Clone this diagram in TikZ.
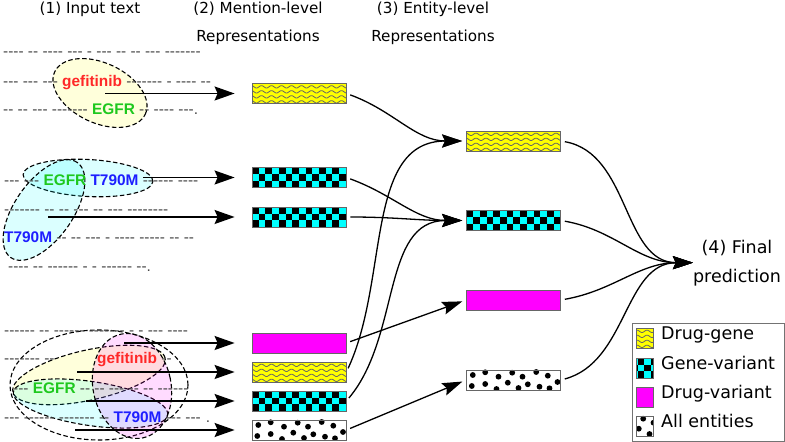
\documentclass[tikz,border=0pt]{standalone}
\usepackage{fontspec}
\setmainfont{DejaVu Sans}
\newfontfamily\inputfont[Ligatures=TeXOff]{Liberation Sans}
\usetikzlibrary{arrows.meta}

\definecolor{drugred}{RGB}{255,40,40}
\definecolor{genegreen}{RGB}{30,200,30}
\definecolor{varblue}{RGB}{30,30,255}
\definecolor{dgyellow}{RGB}{255,255,0}
\definecolor{gvcyan}{RGB}{0,255,255}
\definecolor{dvmagenta}{RGB}{255,0,255}

\newcommand\gefi{\textcolor{drugred}{\bfseries gefitinib}}
\newcommand\egfr{\textcolor{genegreen}{\bfseries EGFR}}
\newcommand\tvm{\textcolor{varblue}{\bfseries T790M}}

\tikzset{
  txtline/.style={anchor=base west, inner sep=0pt, text=black!72,
    font=\inputfont\fontsize{15.4}{18}\selectfont},
  head/.style={inner sep=0pt, align=center, font=\fontsize{15.2}{27.6}\selectfont},
  mention/.style={draw, dash pattern=on 4.5pt off 2.5pt, line width=1.1pt, fill opacity=0.14},
  inarrow/.style={-{Stealth[length=20pt,width=14pt,inset=3pt]}, line width=1.4pt, shorten >=17pt},
  link/.style={-{Stealth[length=20pt,width=13pt,inset=3pt]}, line width=1.3pt,
    shorten <=4pt, shorten >=4pt},
  rep/.style={draw=black!60, line width=0.8pt, minimum width=94pt, minimum height=20pt,
    inner sep=0pt},
  % patterns are drawn round the node centre
  druggene/.style={rep, fill=dgyellow, path picture={
      \foreach \k in {0,...,3}
        \draw[line width=0.8pt] plot[domain=-50:50, samples=101] (\x, {6.7-5*\k+1.2*sin(36*\x)});
      }},
  genevar/.style={rep, fill=gvcyan, path picture={
      \foreach \i in {0,...,14}
        \foreach \j in {0,1,2}
          {\ifodd\numexpr\i+\j+1\relax \fill[black] ({-47+\i*6.7},{10-\j*6.7}) rectangle ++(6.7,-6.7); \fi}
      }},
  drugvar/.style={rep, fill=dvmagenta},
  allent/.style={rep, fill=white, path picture={
      \foreach \dx/\dy in {6.3/-5, 18.7/-2.3, 32/-6.7, 45.7/-2.7, 56/-6.7, 69.7/-2, 81.3/-5.7,
          5.3/-16, 18.7/-14, 30/-19, 41.3/-12.7, 52/-18, 61.3/-14.3, 73/-16.7, 83/-18.3, 91/-12}
        \fill[black] ({\dx-47},{\dy+10}) circle (2.9);
      }},
  keytext/.style={anchor=base west, inner sep=0pt, font=\fontsize{17.5}{21}\selectfont}
}

\begin{document}
\begin{tikzpicture}[x=1pt, y=1pt]
  \useasboundingbox (0,0) rectangle (785,442);

  % mention groups
  \draw[mention, fill=dgyellow, shift={(100,349)}, rotate=-25] (0,0) ellipse [x radius=50, y radius=30];
  \draw[mention, fill=gvcyan, shift={(88,264)}, rotate=-3] (0,0) ellipse [x radius=65, y radius=18.5];
  \draw[mention, fill=gvcyan, shift={(44,232)}, rotate=55] (0,0) ellipse [x radius=58, y radius=29];
  \draw[mention] (99,57) ellipse [x radius=89, y radius=55];
  \draw[mention, fill=dgyellow, shift={(89,67)}, rotate=12.6] (0,0) ellipse [x radius=78, y radius=25];
  \draw[mention, fill=gvcyan, shift={(90.5,38.5)}, rotate=-8.4] (0,0) ellipse [x radius=78, y radius=22];
  \draw[mention, fill=dvmagenta, shift={(132,56)}, rotate=12] (0,0) ellipse [x radius=39, y radius=53];

  % input text
  \node[txtline] (t1) at (3,385.5) {---- -- ---- --- - --- -- -- --- -------};
  \node[txtline] (t2) at (3,355.5) {--- --- --- \gefi{} ------- - ---- --};
  \node[txtline] (t3) at (3,327.5) {-- -- --- ------- \egfr{} -- ---- ---.};
  \node[txtline] (t4) at (4,256.5) {--- --- \egfr{} \tvm{} ------ ----};
  \node[txtline] (t5) at (4,227.5) {------- -- -- --- -- --- --------};
  \node[txtline] (t6) at (4,199.5) {\tvm{} -- -- --- - ---- ----- -- --};
  \node[txtline] (t7) at (8,170.5) {---- -- ------ - - ------ --.};
  \node[txtline] (t8) at (4,106.5) {------ -- ------ ------- - - --- ----};
  \node[txtline] (t9) at (4,78.5) {------- --\hspace{42.6pt}\gefi{} --};
  \node[txtline] (t10) at (13,48.5) {--- \egfr{} -- -- --- -- -- ------};
  \node[txtline] (t11) at (4,19.5) {--- ------ ------- -- \tvm{} --- ---\hspace{5pt}.};

  % headings
  \node[head, anchor=base] (h1) at (90,428) {(1) Input text};
  \node[head] (h2) at (258,418.5) {(2) Mention-level\\Representations};
  \node[head] (h3) at (433,418.5) {(3) Entity-level\\Representations};
  \node[inner sep=0pt, align=center, font=\fontsize{17.5}{29}\selectfont] (final) at (737,179.3)
    {(4) Final\\prediction};

  % mention-level
  \node[druggene] (m1) at (299,348.5) {};
  \node[genevar] (m2) at (299,264.5) {};
  \node[genevar] (m3) at (299,225) {};
  \node[drugvar] (m4) at (299,99) {};
  \node[druggene] (m5) at (299,70) {};
  \node[genevar] (m6) at (299,41) {};
  \node[allent] (m7) at (299,12) {};

  % entity-level
  \node[druggene] (e1) at (513.5,301) {};
  \node[genevar] (e2) at (513.5,221.5) {};
  \node[drugvar] (e3) at (513.5,142) {};
  \node[allent] (e4) at (513.5,62) {};

  \coordinate (s1) at (105,348.5);
  \coordinate (s2) at (143,264.5);
  \coordinate (s3) at (48,225);
  \coordinate (s4) at (124,99);
  \coordinate (s5) at (77,70);
  \coordinate (s6) at (86,41);
  \coordinate (s7) at (75,12);
  \foreach \i in {1,...,7}
    \draw[inarrow] (s\i) -- (m\i);

  \draw[link] (m1.east) to[out=-20, in=180] (e1.west);
  \draw[link] (m2.east) to[out=-20, in=180] (e2.west);
  \draw[link] (m3.east) to[out=0, in=180] (e2.west);
  \draw[link] (m4.east) -- (e3.west);
  \draw[link] (m5.east) to[out=65, in=180] (e1.west);
  \draw[link] (m6.east) to[out=50, in=180] (e2.west);
  \draw[link] (m7.east) -- (e4.west);

  \draw[link, shorten >=0pt] (e1.east) to[out=-10, in=180] (final.west);
  \draw[link, shorten >=0pt] (e2.east) to[out=-10, in=180] (final.west);
  \draw[link, shorten >=0pt] (e3.east) to[out=10, in=180] (final.west);
  \draw[link, shorten >=0pt] (e4.east) to[out=15, in=180] (final.west);

  % legend
  \draw[black!55, line width=0.9pt] (632,1) rectangle (784,119);
  \node[druggene, minimum width=17pt] (k1) at (644.5,104) {};
  \node[genevar, minimum width=17pt] (k2) at (644.5,74) {};
  \node[drugvar, minimum width=17pt] (k3) at (644.5,45) {};
  \node[allent, minimum width=17pt] (k4) at (644.5,16) {};
  \node[keytext] (l1) at (661,102) {Drug-gene};
  \node[keytext] (l2) at (661,72.7) {Gene-variant};
  \node[keytext] (l3) at (661,43.7) {Drug-variant};
  \node[keytext] (l4) at (661,14.7) {All entities};
\end{tikzpicture}
\end{document}
